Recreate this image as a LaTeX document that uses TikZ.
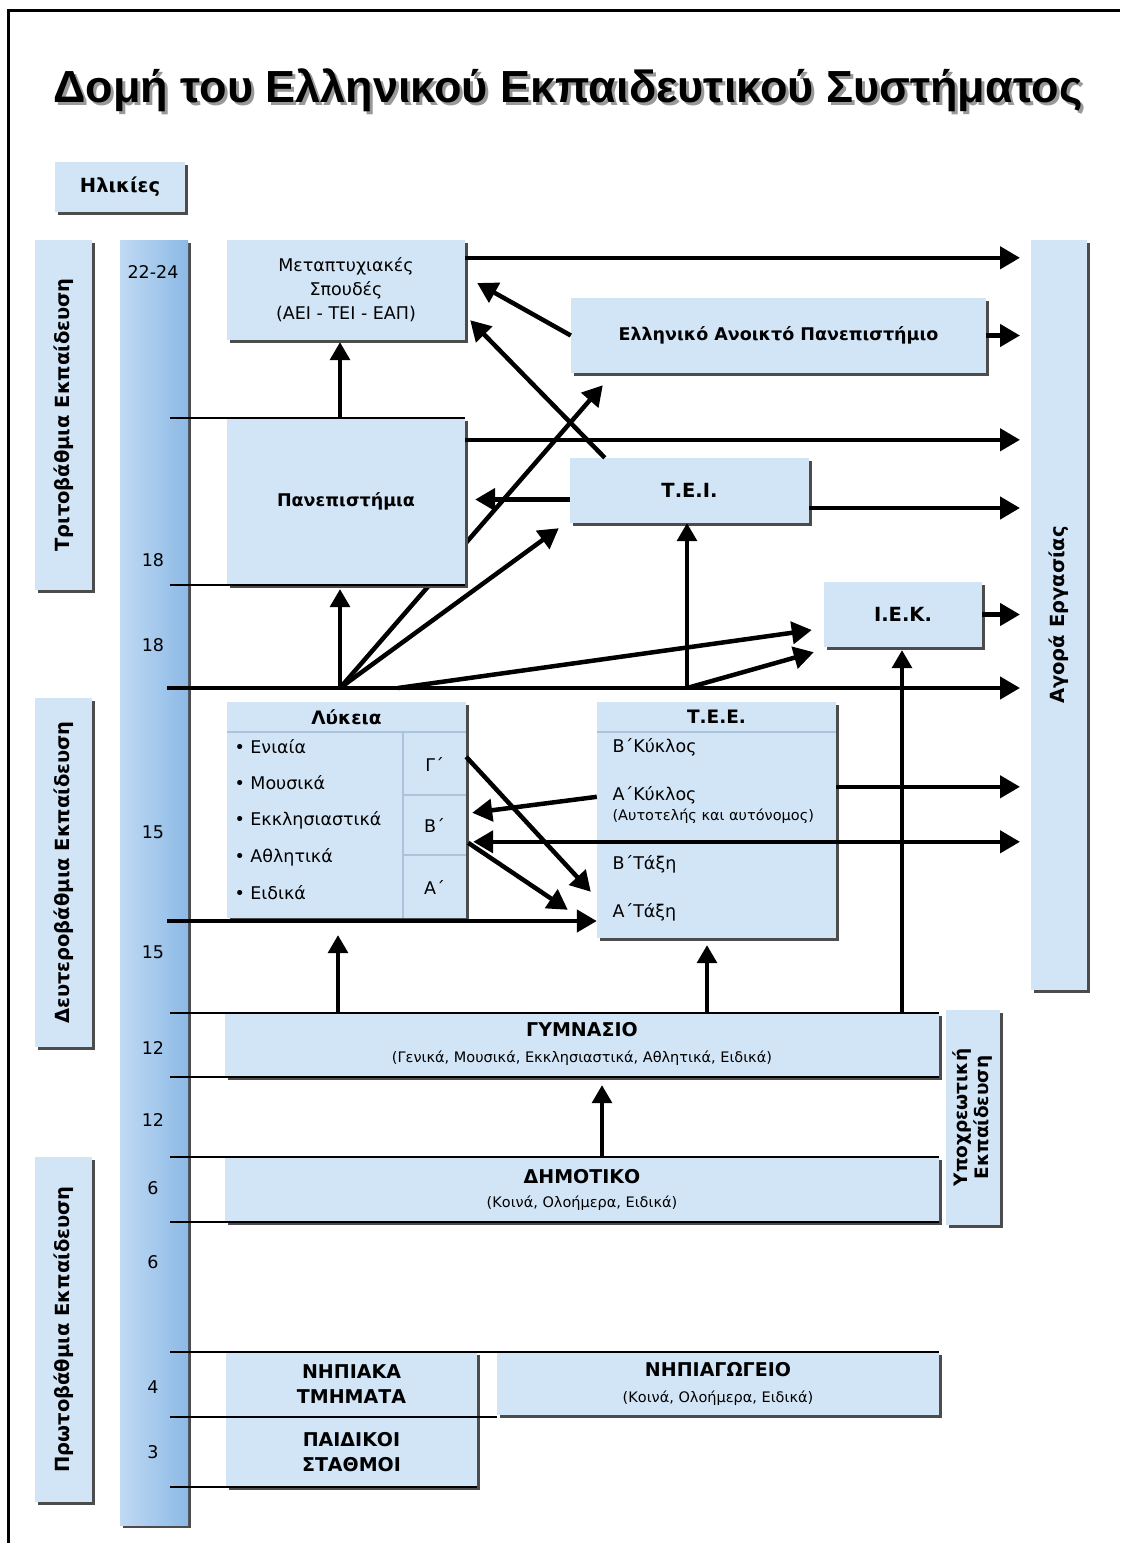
\documentclass[tikz,border=0pt]{standalone}
\usepackage{fontspec}
\setmainfont{DejaVu Sans}
\newfontfamily\titlefont{Liberation Sans}
\usetikzlibrary{arrows.meta,calc,shadows}
\definecolor{boxblue}{RGB}{210,229,247}
\definecolor{barlight}{RGB}{192,218,243}
\definecolor{bardark}{RGB}{140,185,230}
\definecolor{sepline}{RGB}{172,196,219}
\pgfdeclarelayer{bg}
\pgfsetlayers{bg,main}
\tikzset{
  box/.style={fill=boxblue, inner sep=0pt, align=center,
    drop shadow={shadow xshift=2.5pt, shadow yshift=-2.5pt, fill=black!70, opacity=1}},
  lbl/.style={font=\fontsize{17.5}{21}\selectfont, align=center},
  lblb/.style={font=\fontsize{17.5}{21}\selectfont\bfseries, align=center},
  lvl/.style={font=\fontsize{19.5}{22}\selectfont\bfseries, align=center},
  head/.style={font=\fontsize{18.5}{21}\selectfont\bfseries},
  age/.style={font=\fontsize{17.5}{20}\selectfont},
  sub/.style={font=\fontsize{14.5}{17}\selectfont},
  capb/.style={font=\fontsize{19}{25}\selectfont\bfseries, align=center},
  arr/.style={line width=4.5pt, -{Triangle[length=20pt,width=22pt]}},
  darr/.style={line width=4.5pt, {Triangle[length=20pt,width=22pt]}-{Triangle[length=20pt,width=22pt]}},
  uparr/.style={line width=3.5pt, -{Triangle[length=18pt,width=20pt]}},
  ageline/.style={line width=1.8pt},
  sep/.style={draw=sepline, line width=2pt},
}
\begin{document}
\begin{tikzpicture}[x=1pt,y=-1pt]
\useasboundingbox (0,0) rectangle (1120,1543);
\draw[line width=3pt] (8,1543) -- (8,10) -- (1120,10);

% title
\node[anchor=base, text=black!40, font=\titlefont\fontsize{45}{52}\selectfont\bfseries] at (571,105) {Δομή του Ελληνικού Εκπαιδευτικού Συστήματος};
\node[anchor=base, font=\titlefont\fontsize{45}{52}\selectfont\bfseries] (title) at (568,102) {Δομή του Ελληνικού Εκπαιδευτικού Συστήματος};

% levels and ages
\node[box, lvl, minimum width=130pt, minimum height=50pt] (ages) at (120,187) {Ηλικίες};
\node[box, minimum width=57pt, minimum height=350pt] (tri) at (63.5,415) {};
\node[lvl, rotate=90] at (tri) {Τριτοβάθμια Εκπαίδευση};
\node[box, minimum width=57pt, minimum height=349pt] (deu) at (63.5,872.5) {};
\node[lvl, rotate=90] at (deu) {Δευτεροβάθμια Εκπαίδευση};
\node[box, minimum width=57pt, minimum height=345pt] (pro) at (63.5,1329.5) {};
\node[lvl, rotate=90] at (pro) {Πρωτοβάθμια Εκπαίδευση};
\node[box, left color=barlight, right color=bardark, minimum width=68pt, minimum height=1285pt] (bar) at (154,882.5) {};

\node[age] (a2224) at (153,272) {22-24};
\node[age] (a18) at (153,560) {18};
\node[age] (b18) at (153,645) {18};
\node[age] (a15) at (153,832) {15};
\node[age] (b15) at (153,952) {15};
\node[age] (a12) at (153,1048) {12};
\node[age] (b12) at (153,1120) {12};
\node[age] (a6) at (153,1188) {6};
\node[age] (b6) at (153,1262) {6};
\node[age] (a4) at (153,1387) {4};
\node[age] (a3) at (153,1452) {3};

\coordinate (tick) at (170,0);
\coordinate (mkt) at (1020,0);

% tertiary
\node[box, font=\fontsize{17.5}{24}\selectfont, minimum width=238pt, minimum height=100pt] (meta) at (346,290) {Μεταπτυχιακές\\Σπουδές\\(ΑΕΙ - ΤΕΙ - ΕΑΠ)};
\node[box, lblb, minimum width=238pt, minimum height=167pt] (uni) at (346,501.5) {Πανεπιστήμια};
\node[box, lblb, minimum width=415pt, minimum height=75pt] (eap) at (778.5,335.5) {Ελληνικό Ανοικτό Πανεπιστήμιο};
\node[box, lvl, minimum width=239pt, minimum height=65pt] (tei) at (689.5,490.5) {Τ.Ε.Ι.};
\node[box, lvl, minimum width=158pt, minimum height=65pt] (iek) at (903,614.5) {Ι.Ε.Κ.};
\node[box, minimum width=56pt, minimum height=750pt] (market) at (1059,615) {};
\node[lvl, rotate=90] at (market) {Αγορά Εργασίας};

% secondary
\node[box, minimum width=239pt, minimum height=216pt] (lyk) at (346.5,810) {};
\draw[sep] ($(lyk.north west)+(0,30)$) -- ($(lyk.north east)+(0,30)$);
\draw[sep] ($(lyk.north east)+(-63,30)$) -- ($(lyk.south east)+(-63,0)$);
\draw[sep] ($(lyk.north east)+(-63,93)$) -- ($(lyk.north east)+(0,93)$);
\draw[sep] ($(lyk.north east)+(-63,153)$) -- ($(lyk.north east)+(0,153)$);
\node[head] (lykh) at ($(lyk.north)+(0,15)$) {Λύκεια};
\node[lbl, anchor=west] (ly1) at (231,747) {• Ενιαία};
\node[lbl, anchor=west] (ly2) at (231,783) {• Μουσικά};
\node[lbl, anchor=west] (ly3) at (231,820) {• Εκκλησιαστικά};
\node[lbl, anchor=west] (ly4) at (231,857) {• Αθλητικά};
\node[lbl, anchor=west] (ly5) at (231,893) {• Ειδικά};
\node[lbl] (gr3) at (434.5,764) {Γ΄};
\node[lbl] (gr2) at (434.5,825) {Β΄};
\node[lbl] (gr1) at (434.5,887) {Α΄};

\node[box, minimum width=239pt, minimum height=236pt] (tee) at (716.5,820) {};
\draw[sep] ($(tee.north west)+(0,30)$) -- ($(tee.north east)+(0,30)$);
\node[head] (teeh) at ($(tee.north)+(0,15)$) {Τ.Ε.Ε.};
\node[lbl, anchor=west] (te1) at (609,747) {Β΄Κύκλος};
\node[lbl, anchor=west] (te2) at (609,795) {Α΄Κύκλος};
\node[sub, anchor=west] (te3) at (609,816) {(Αυτοτελής και αυτόνομος)};
\node[lbl, anchor=west] (te4) at (609,864) {Β΄Τάξη};
\node[lbl, anchor=west] (te5) at (609,912) {Α΄Τάξη};

% compulsory
\node[box, minimum width=714pt, minimum height=64pt] (gym) at (582,1045) {};
\node[capb] (gymt) at (582,1030) {ΓΥΜΝΑΣΙΟ};
\node[sub] (gyms) at (582,1058) {(Γενικά, Μουσικά, Εκκλησιαστικά, Αθλητικά, Ειδικά)};
\node[box, minimum width=714pt, minimum height=65pt] (dim) at (582,1189.5) {};
\node[capb] (dimt) at (582,1177) {ΔΗΜΟΤΙΚΟ};
\node[sub] (dims) at (582,1203) {(Κοινά, Ολοήμερα, Ειδικά)};
\node[box, minimum width=54pt, minimum height=215pt] (ypo) at (973,1117.5) {};
\node[font=\fontsize{18.5}{21}\selectfont\bfseries, align=center, rotate=90] at (ypo) {Υποχρεωτική\\Εκπαίδευση};

% pre-school
\node[box, capb, minimum width=251pt, minimum height=65pt] (nip) at (351.5,1384.5) {ΝΗΠΙΑΚΑ\\ΤΜΗΜΑΤΑ};
\node[box, capb, minimum width=251pt, minimum height=70pt] (paid) at (351.5,1452) {ΠΑΙΔΙΚΟΙ\\ΣΤΑΘΜΟΙ};
\node[box, minimum width=442pt, minimum height=63pt] (nipag) at (718,1383.5) {};
\node[capb] (nipagt) at (718,1370) {ΝΗΠΙΑΓΩΓΕΙΟ};
\node[sub] (nipags) at (718,1398) {(Κοινά, Ολοήμερα, Ειδικά)};

% age lines
\draw[ageline] (tick |- uni.north) -- (uni.north east);
\draw[ageline] (tick |- uni.south) -- (uni.south east);
\draw[ageline] (tick |- gym.north) -- (gym.north east);
\draw[ageline] (tick |- gym.south) -- (gym.south east);
\draw[ageline] (tick |- dim.north) -- (dim.north east);
\draw[ageline] (tick |- dim.south) -- (dim.south east);
\draw[ageline] (tick |- nipag.north) -- (nipag.north east);
\draw[ageline] (tick |- nip.south) -- (nip.south -| nipag.west);
\draw[ageline] (tick |- paid.south) -- (paid.south east);

% main lines
\coordinate (main) at (167,688);
\coordinate (low) at (167,921);
\coordinate (fan) at (340,688);
\coordinate (fan2) at (398,688);
\coordinate (teej) at (687,688);
\draw[arr] (main) -- (main -| mkt);
\draw[arr] (low) -- (low -| tee.west);

% to the labour market
\coordinate (o1) at ($(meta.north east)+(0,18)$);
\coordinate (o2) at ($(uni.north east)+(0,22)$);
\coordinate (o3) at ($(tei.east)+(0,17.5)$);
\coordinate (o4) at ($(tee.north east)+(0,85)$);
\coordinate (o5) at ($(lyk.north east)+(7,140)$);
\draw[arr] (o1) -- (o1 -| mkt);
\draw[arr] (eap.east) -- (eap.east -| mkt);
\draw[arr] (o2) -- (o2 -| mkt);
\draw[arr] (o3) -- (o3 -| mkt);
\draw[arr] (iek.east) -- (iek.east -| mkt);
\draw[arr] (o4) -- (o4 -| mkt);
\draw[darr] (o5) -- (o5 -| mkt);

% after the lyceum
\begin{pgfonlayer}{bg}
\draw[arr] (fan) -- ($(eap.south west)+(32,12)$);
\end{pgfonlayer}
\draw[uparr, shorten >=4pt] (fan) -- (fan |- uni.south);
\draw[arr] (fan) -- ($(tei.south west)+(-11,5)$);
\draw[arr] (fan2) -- ($(iek.west)+(-12,15.5)$);
\draw[arr] (teej) -- ($(iek.south west)+(-10,5)$);
\draw[uparr] (teej) -- (teej |- tei.south);
\draw[arr] (eap.west) -- ($(meta.east)+(12,-7)$);
\draw[arr] ($(tei.north west)+(35,0)$) -- ($(meta.south east)+(5,-20)$);
\draw[arr] ($(tei.west)+(0,9)$) -- ($(uni.east)+(10,-2)$);
\draw[uparr] ($(uni.north)+(-6,0)$) -- ($(meta.south)+(-6,2)$);

% between lyceum and T.E.E.
\draw[arr] ($(tee.north west)+(0,95)$) -- ($(lyk.north east)+(6,111)$);
\draw[arr] ($(lyk.north east)+(0,55)$) -- ($(tee.north west)+(-6,190)$);
\draw[arr] ($(lyk.north east)+(2,141)$) -- ($(tee.north west)+(-29,208)$);

% upwards
\draw[uparr] ($(gym.north)+(-244,0)$) -- ($(lyk.south)+(-8.5,17)$);
\draw[uparr] ($(gym.north)+(125,0)$) -- ($(tee.south)+(-9.5,7)$);
\draw[uparr] ($(gym.north)+(320,0)$) -- ($(iek.south)+(-1,3)$);
\draw[uparr] ($(dim.north)+(20,0)$) -- ($(gym.south)+(20,8)$);
\end{tikzpicture}
\end{document}
